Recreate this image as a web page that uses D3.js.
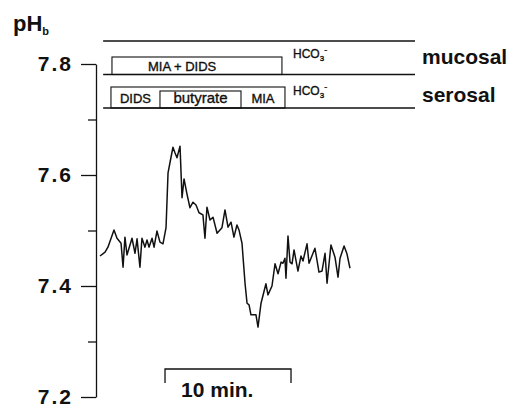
<!DOCTYPE html>
<html>
<head>
<meta charset="utf-8">
<script src="https://cdn.jsdelivr.net/npm/d3@7"></script>
<style>
  body { margin: 0; background: #fff; }
  text { font-family: "Liberation Sans", Arial, sans-serif; fill: #111; }
  text.thin { stroke: #111; stroke-width: 0.35px; }
</style>
</head>
<body>
<script>
// trace: time (min) and pHb
var timeMin = [0.00,0.40,0.63,1.11,1.35,1.67,1.83,1.98,2.14,2.54,
  2.78,2.94,3.17,3.33,3.57,3.73,3.89,4.13,4.29,4.52,
  4.76,5.00,5.24,5.40,5.56,5.79,5.95,6.11,6.35,6.51,
  6.67,6.90,7.14,7.38,7.62,7.86,8.17,8.33,8.49,8.73,
  8.97,9.29,9.68,9.92,10.16,10.40,10.63,10.87,11.03,11.27,
  11.51,11.67,11.83,11.98,12.38,12.54,12.78,13.17,13.33,13.65,
  13.89,14.13,14.37,14.52,14.68,14.76,14.92,15.08,15.24,15.40,
  15.71,15.95,16.11,16.43,16.59,17.06,17.38,17.62,17.86,18.02,
  18.33,18.65,18.89,19.05,19.37,19.60,19.84];
var pHb = [7.454,7.461,7.470,7.501,7.486,7.477,7.434,7.488,7.456,7.486,
  7.459,7.485,7.434,7.486,7.470,7.483,7.470,7.486,7.470,7.499,
  7.479,7.476,7.505,7.604,7.623,7.650,7.640,7.631,7.652,7.559,
  7.593,7.566,7.541,7.551,7.546,7.532,7.528,7.486,7.542,7.519,
  7.524,7.495,7.505,7.537,7.506,7.515,7.488,7.510,7.501,7.477,
  7.405,7.369,7.366,7.348,7.348,7.326,7.369,7.404,7.384,7.400,
  7.440,7.422,7.443,7.441,7.450,7.414,7.490,7.443,7.440,7.465,
  7.427,7.454,7.445,7.476,7.441,7.468,7.425,7.427,7.459,7.405,
  7.474,7.452,7.416,7.450,7.472,7.458,7.432];

var yTicks = [7.2, 7.3, 7.4, 7.5, 7.6, 7.7, 7.8];

// protocol periods (min)
var mucosalPeriods = [{label: "MIA + DIDS", start: 0.95, end: 14.44}];
var serosalPeriods = [
  {label: "DIDS", start: 0.87, end: 4.76},
  {label: "butyrate", start: 4.76, end: 11.19},
  {label: "MIA", start: 11.19, end: 14.68}
];
var scaleBarStart = 5.16, scaleBarLength = 10;

var width = 514, height = 411;
var svg = d3.select("body").append("svg")
  .attr("width", width)
  .attr("height", height);

var x = d3.scaleLinear().domain([0, 25]).range([100, 415]);
var y = d3.scaleLinear().domain([7.2, 7.8]).range([397, 64]);

// y axis
var axis = d3.axisLeft(y)
  .tickValues(yTicks)
  .tickSize(15)
  .tickSizeOuter(0)
  .tickPadding(8)
  .tickFormat(function(d) {
    return Math.round(d * 10) % 2 == 0 ? d3.format(".1f")(d) : "";
  });

var gAxis = svg.append("g")
  .attr("transform", "translate(96,0)")
  .call(axis);
gAxis.select(".domain").attr("stroke", "#111").attr("stroke-width", 1.3);
gAxis.selectAll(".tick line").attr("stroke", "#111").attr("stroke-width", 1.3)
  .attr("x2", function(d) { return Math.round(d * 10) % 2 == 0 ? -15 : -8; });
gAxis.selectAll(".tick text")
  .style("font-size", "21px")
  .style("font-weight", "bold")
  .style("letter-spacing", "2px")
  .attr("fill", "#111");

// pH_b label
var lab = svg.append("text").attr("x", 13).attr("y", 31)
  .style("font-size", "22px").style("font-weight", "bold");
lab.append("tspan").text("pH");
lab.append("tspan").text("b").attr("dy", 4).style("font-size", "11px");

// solution lines
var rowLines = [41, 74.5, 108];
svg.selectAll("line.row")
  .data(rowLines)
  .enter()
  .append("line")
  .attr("class", "row")
  .attr("x1", x(0.25))
  .attr("x2", x(25))
  .attr("y1", function(d) { return d; })
  .attr("y2", function(d) { return d; })
  .attr("stroke", "#111")
  .attr("stroke-width", 1.4);

// mucosal boxes
svg.selectAll("rect.muc")
  .data(mucosalPeriods)
  .enter()
  .append("rect")
  .attr("class", "muc")
  .attr("x", function(d) { return x(d.start); })
  .attr("y", 57)
  .attr("width", function(d) { return x(d.end) - x(d.start); })
  .attr("height", 17.5)
  .attr("fill", "none")
  .attr("stroke", "#111")
  .attr("stroke-width", 1.1);

svg.selectAll("text.muc")
  .data(mucosalPeriods)
  .enter()
  .append("text")
  .attr("class", "muc thin")
  .attr("x", function(d) { return x(d.start) + 36; })
  .attr("y", 71)
  .style("font-size", "13px")
  .text(function(d) { return d.label; });

// serosal boxes
var serStart = d3.min(serosalPeriods, function(d) { return d.start; });
var serEnd = d3.max(serosalPeriods, function(d) { return d.end; });
svg.append("rect")
  .attr("x", x(serStart))
  .attr("y", 87)
  .attr("width", x(serEnd) - x(serStart))
  .attr("height", 21)
  .attr("fill", "none")
  .attr("stroke", "#111")
  .attr("stroke-width", 1.1);

svg.selectAll("rect.ser")
  .data(serosalPeriods.filter(function(d) { return d.label == "butyrate"; }))
  .enter()
  .append("rect")
  .attr("class", "ser")
  .attr("x", function(d) { return x(d.start); })
  .attr("y", 91)
  .attr("width", function(d) { return x(d.end) - x(d.start); })
  .attr("height", 17)
  .attr("fill", "none")
  .attr("stroke", "#111")
  .attr("stroke-width", 1.1);

svg.selectAll("text.ser")
  .data(serosalPeriods)
  .enter()
  .append("text")
  .attr("class", "ser thin")
  .attr("x", function(d) { return (x(d.start) + x(d.end)) / 2; })
  .attr("y", 103)
  .attr("text-anchor", "middle")
  .style("font-size", function(d) { return d.label == "butyrate" ? "15px" : "13px"; })
  .text(function(d) { return d.label; });

// HCO3- labels
[58, 95].forEach(function(yy) {
  var t = svg.append("text").attr("class", "thin")
    .attr("x", 293).attr("y", yy).style("font-size", "12px");
  t.append("tspan").text("HCO");
  t.append("tspan").text("3").attr("dy", 3).style("font-size", "8px");
  t.append("tspan").text("-").attr("dy", -8).style("font-size", "9px");
});

svg.append("text").attr("x", 422).attr("y", 64)
  .style("font-size", "21px").style("font-weight", "bold").text("mucosal");
svg.append("text").attr("x", 422).attr("y", 102)
  .style("font-size", "21px").style("font-weight", "bold").text("serosal");

// trace
var traceData = timeMin.map(function(t, i) { return [t, pHb[i]]; });
var line = d3.line()
  .x(function(d) { return x(d[0]); })
  .y(function(d) { return y(d[1]); });
svg.append("path")
  .datum(traceData)
  .attr("d", line)
  .attr("fill", "none")
  .attr("stroke", "#111")
  .attr("stroke-width", 1.5)
  .attr("stroke-linejoin", "round");

// time scale bar
var sb0 = x(scaleBarStart), sb1 = x(scaleBarStart + scaleBarLength);
svg.append("path")
  .attr("d", "M" + sb0 + ",383V369H" + sb1 + "V383")
  .attr("fill", "none")
  .attr("stroke", "#111")
  .attr("stroke-width", 1.3);
svg.append("text")
  .attr("x", sb0 + 16)
  .attr("y", 397)
  .style("font-size", "21px")
  .style("font-weight", "bold")
  .text("10 min.");
</script>
</body>
</html>
